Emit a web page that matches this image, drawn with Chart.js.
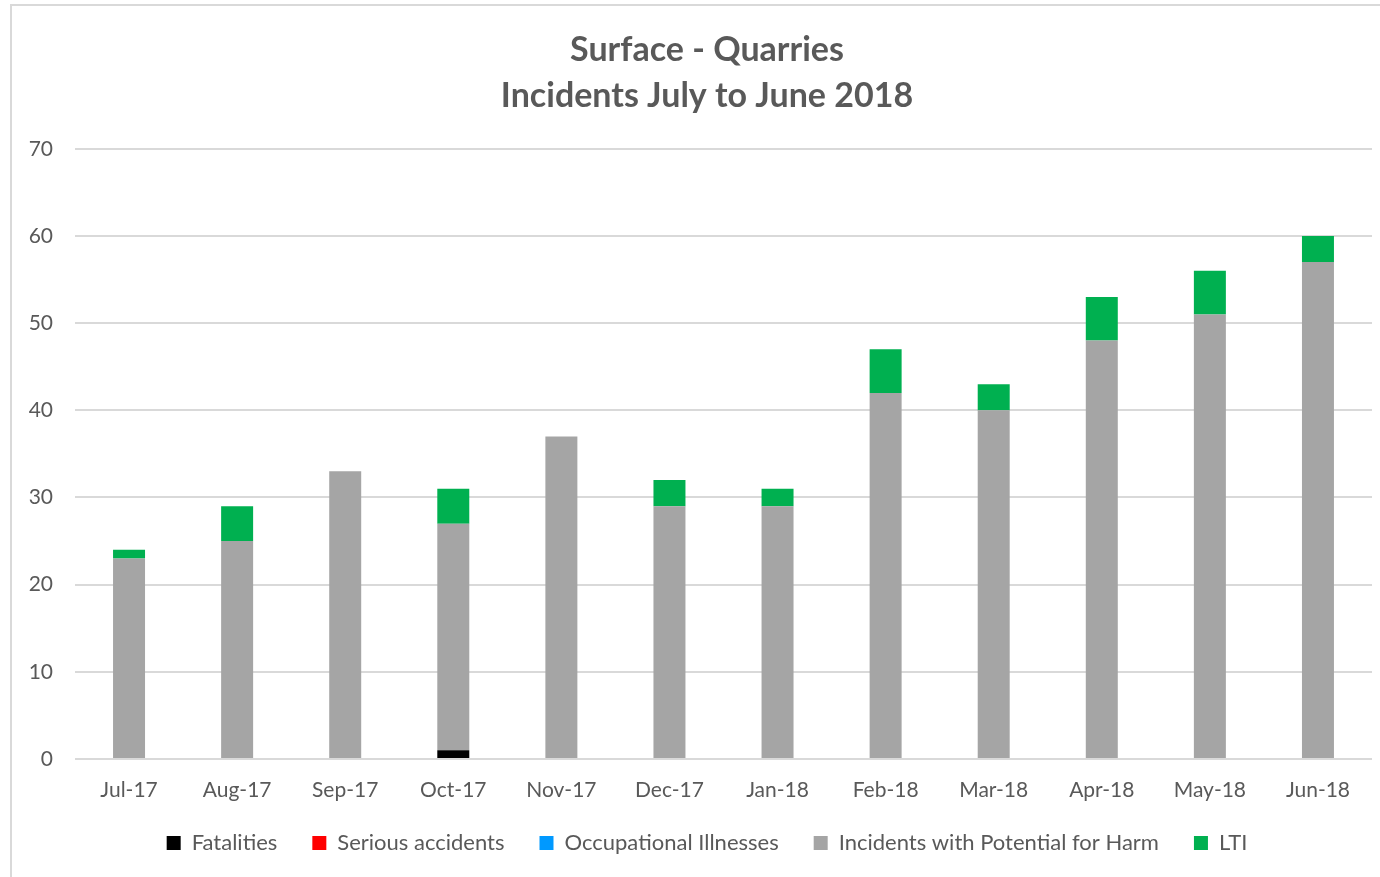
<!DOCTYPE html>
<html><head><meta charset="utf-8">
<script src="https://cdn.jsdelivr.net/npm/chart.js@4"></script>
<style>
html,body{margin:0;padding:0;background:#fff;overflow:hidden;}
#frame{position:absolute;left:10px;top:4px;width:1420px;height:920px;border:2px solid #d9d9d9;}
#wrap{position:absolute;left:0;top:0;width:1380px;height:877px;}
</style></head><body>
<div id="frame"></div>
<div id="wrap"><canvas id="c" width="1380" height="877"></canvas></div>
<script>
const categories = ["Jul-17","Aug-17","Sep-17","Oct-17","Nov-17","Dec-17","Jan-18","Feb-18","Mar-18","Apr-18","May-18","Jun-18"];
const fatalities = [0,0,0,1,0,0,0,0,0,0,0,0];
const seriousAccidents = [0,0,0,0,0,0,0,0,0,0,0,0];
const occupationalIllnesses = [0,0,0,0,0,0,0,0,0,0,0,0];
const incidentsPotentialHarm = [23,25,33,26,37,29,29,42,40,48,51,57];
const lti = [1,4,0,4,0,3,2,5,3,5,5,3];
const titleLines = ["Surface - Quarries","Incidents July to June 2018"];
const yMax = 70, yStep = 10;

const FONT = "Lato, 'Open Sans', sans-serif";
const TXT = "#595959";
const mk = (label, data, color) => ({label, data, backgroundColor: color, borderWidth: 0, barPercentage: 0.296, categoryPercentage: 1});
const noClip = s => { s._computeLabelArea = () => undefined; };

new Chart(document.getElementById('c'), {
  type: 'bar',
  data: {
    labels: categories,
    datasets: [
      mk("Fatalities", fatalities, "#000000"),
      mk("Serious accidents", seriousAccidents, "#ff0000"),
      mk("Occupational Illnesses", occupationalIllnesses, "#0099ff"),
      mk("Incidents with Potential for Harm", incidentsPotentialHarm, "#a5a5a5"),
      mk("LTI", lti, "#00b050")
    ]
  },
  options: {
    responsive: false,
    animation: false,
    layout: {padding: {left: 42, right: 8, top: 0, bottom: 13}},
    plugins: {
      title: {display: true, text: titleLines, color: TXT, font: {family: FONT, size: 34, weight: 'bold', lineHeight: 1.35}, padding: {top: 27, bottom: 30}},
      legend: {position: 'bottom', labels: {color: TXT, font: {family: FONT, size: 22}, boxWidth: 14, boxHeight: 14, padding: 35, useBorderRadius: false}},
      tooltip: {enabled: false}
    },
    scales: {
      x: {stacked: true, grid: {display: false, drawTicks: false}, border: {display: false},
          ticks: {color: TXT, font: {family: FONT, size: 21}, padding: 19},
          afterFit: s => { s.height = 38; noClip(s); }},
      y: {stacked: true, min: 0, max: yMax, grid: {color: '#d9d9d9', lineWidth: 2, drawTicks: false}, border: {display: false},
          ticks: {stepSize: yStep, color: TXT, font: {family: FONT, size: 21}, padding: 22},
          afterFit: s => { s.width = 33; noClip(s); }}
    }
  }
});
</script>
</body></html>
